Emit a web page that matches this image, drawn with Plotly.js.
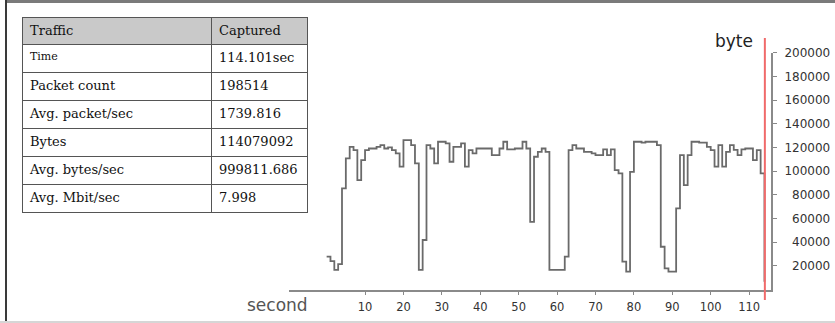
<!DOCTYPE html>
<html>
<head>
<meta charset="utf-8">
<script src="https://cdn.plot.ly/plotly-3.0.1.min.js"></script>
<style>
  html, body { margin: 0; padding: 0; background: #ffffff; }
  #wrap { position: relative; width: 835px; height: 323px; overflow: hidden; }
  #chart { position: absolute; left: 0; top: 0; width: 835px; height: 323px; }
  .edge { position: absolute; pointer-events: none; }
</style>
</head>
<body>
<div id="wrap">
  <div id="chart"></div>
  <div class="edge" style="left:5px; top:0; width:830px; height:3px; background:#7a7a7a;"></div>
  <div class="edge" style="left:5px; top:0; width:2px; height:323px; background:#3a3a3a;"></div>
  <div class="edge" style="left:0; top:321px; width:835px; height:2px; background:#d6d6d6;"></div>
</div>
<script>
// ---- data ----
const seconds = [
  0, 1, 2, 3, 4, 5, 6, 7, 8, 9,
  10, 11, 12, 13, 14, 15, 16, 17, 18, 19,
  20, 21, 22, 23, 24, 25, 26, 27, 28, 29,
  30, 31, 32, 33, 34, 35, 36, 37, 38, 39,
  40, 41, 42, 43, 44, 45, 46, 47, 48, 49,
  50, 51, 52, 53, 54, 55, 56, 57, 58, 59,
  60, 61, 62, 63, 64, 65, 66, 67, 68, 69,
  70, 71, 72, 73, 74, 75, 76, 77, 78, 79,
  80, 81, 82, 83, 84, 85, 86, 87, 88, 89,
  90, 91, 92, 93, 94, 95, 96, 97, 98, 99,
  100, 101, 102, 103, 104, 105, 106, 107, 108, 109,
  110, 111, 112, 113, 114
];
const bytesPerSecond = [
  27700, 24000, 16500, 21500, 85400, 110700, 120500, 117700, 92400, 109300,
  117700, 119100, 119100, 120500, 121900, 119100, 120000, 117700, 114900, 103700,
  126100, 126100, 121900, 106500, 16500, 41800, 121900, 119100, 106500, 124800,
  124800, 123400, 107900, 120500, 120500, 123400, 103700, 117700, 114900, 119100,
  119100, 119100, 119100, 113500, 113500, 119100, 124800, 118300, 118300, 119100,
  119100, 124800, 119100, 57200, 112100, 116300, 119100, 116300, 16500, 16500,
  16500, 16500, 27700, 117700, 121900, 119100, 119100, 116300, 116300, 114900,
  113500, 113500, 118300, 113500, 118300, 100800, 98000, 23500, 15100, 99400,
  124800, 124800, 124000, 124800, 124800, 124800, 121900, 36100, 17800, 15100,
  15100, 68500, 113500, 88200, 113500, 124800, 124800, 124000, 124000, 120500,
  117700, 103700, 121900, 103700, 116300, 121900, 118000, 113500, 118300, 119100,
  119100, 109300, 117700, 98000, 6600
];
const secondTicks = [10, 20, 30, 40, 50, 60, 70, 80, 90, 100, 110];
const byteTicks = [20000, 40000, 60000, 80000, 100000, 120000, 140000, 160000, 180000, 200000];
const capturedSeconds = 114.101;

const tableHeader = ['Traffic', 'Captured'];
const metricNames = ['Time', 'Packet count', 'Avg. packet/sec', 'Bytes', 'Avg. bytes/sec', 'Avg. Mbit/sec'];
const metricValues = ['114.101sec', '198514', '1739.816', '114079092', '999811.686', '7.998'];

// ---- figure ----
const W = 835, H = 323;
const nameSizes = metricNames.map((n, i) => (i === 0 ? 11 : 13));
const valueSizes = metricValues.map(() => 13);

const line = {
  type: 'scatter', mode: 'lines',
  x: seconds, y: bytesPerSecond,
  line: { shape: 'hv', color: '#6a6a6a', width: 1.8 },
  hoverinfo: 'skip', showlegend: false
};

const table = {
  type: 'table',
  domain: { x: [22 / W, 307 / W], y: [(H - 217) / H, (H - 17) / H] },
  columnwidth: [189, 96],
  header: {
    values: tableHeader,
    align: 'left', height: 27,
    fill: { color: '#c9c9c9' },
    line: { color: '#555555', width: 1 },
    font: { family: 'DejaVu Serif', size: 13, color: '#111111' }
  },
  cells: {
    values: [metricNames, metricValues],
    align: 'left', height: 28,
    fill: { color: '#ffffff' },
    line: { color: '#555555', width: 1 },
    font: { family: 'DejaVu Serif', size: [nameSizes, valueSizes], color: '#111111' }
  }
};

const layout = {
  width: W, height: H,
  margin: { l: 0, r: 0, t: 0, b: 0 },
  paper_bgcolor: '#ffffff', plot_bgcolor: '#ffffff',
  showlegend: false,
  font: { family: 'DejaVu Sans', color: '#333333' },
  xaxis: {
    domain: [289 / W, 771 / W],
    range: [-9.8, 115.7],
    tickvals: secondTicks,
    ticktext: secondTicks.map(String),
    ticks: 'outside', ticklen: 3, tickcolor: '#888888',
    showline: true, linecolor: '#8a8a8a', linewidth: 2,
    showgrid: false, zeroline: false,
    tickfont: { family: 'DejaVu Sans', size: 11.5, color: '#333333' },
    ticklabelstandoff: 3
  },
  yaxis: {
    domain: [(H - 289.5) / H, (H - 52.7) / H],
    range: [0, 200000],
    side: 'right',
    tickvals: byteTicks,
    ticktext: byteTicks.map(v => String(v).padStart(6, '\u2007')),
    ticks: 'outside', ticklen: 4, tickcolor: '#888888',
    showline: true, linecolor: '#8a8a8a', linewidth: 2,
    showgrid: false, zeroline: false,
    tickfont: { family: 'DejaVu Sans', size: 12, color: '#333333' },
    ticklabelstandoff: 5
  },
  shapes: [{
    type: 'line', layer: 'above',
    xref: 'x', yref: 'paper',
    x0: capturedSeconds, x1: capturedSeconds,
    y0: (H - 300) / H, y1: (H - 38) / H,
    line: { color: '#f06a6a', width: 2 }
  }],
  annotations: [
    { text: 'second', xref: 'paper', yref: 'paper', x: 245 / W, y: (H - 305) / H,
      xanchor: 'left', yanchor: 'middle', showarrow: false,
      font: { family: 'DejaVu Sans', size: 17, color: '#555555' } },
    { text: 'byte', xref: 'paper', yref: 'paper', x: 713 / W, y: (H - 41) / H,
      xanchor: 'left', yanchor: 'middle', showarrow: false,
      font: { family: 'DejaVu Sans', size: 17, color: '#222222' } }
  ]
};

Plotly.newPlot('chart', [line, table], layout, { staticPlot: true, displayModeBar: false });
</script>
</body>
</html>
